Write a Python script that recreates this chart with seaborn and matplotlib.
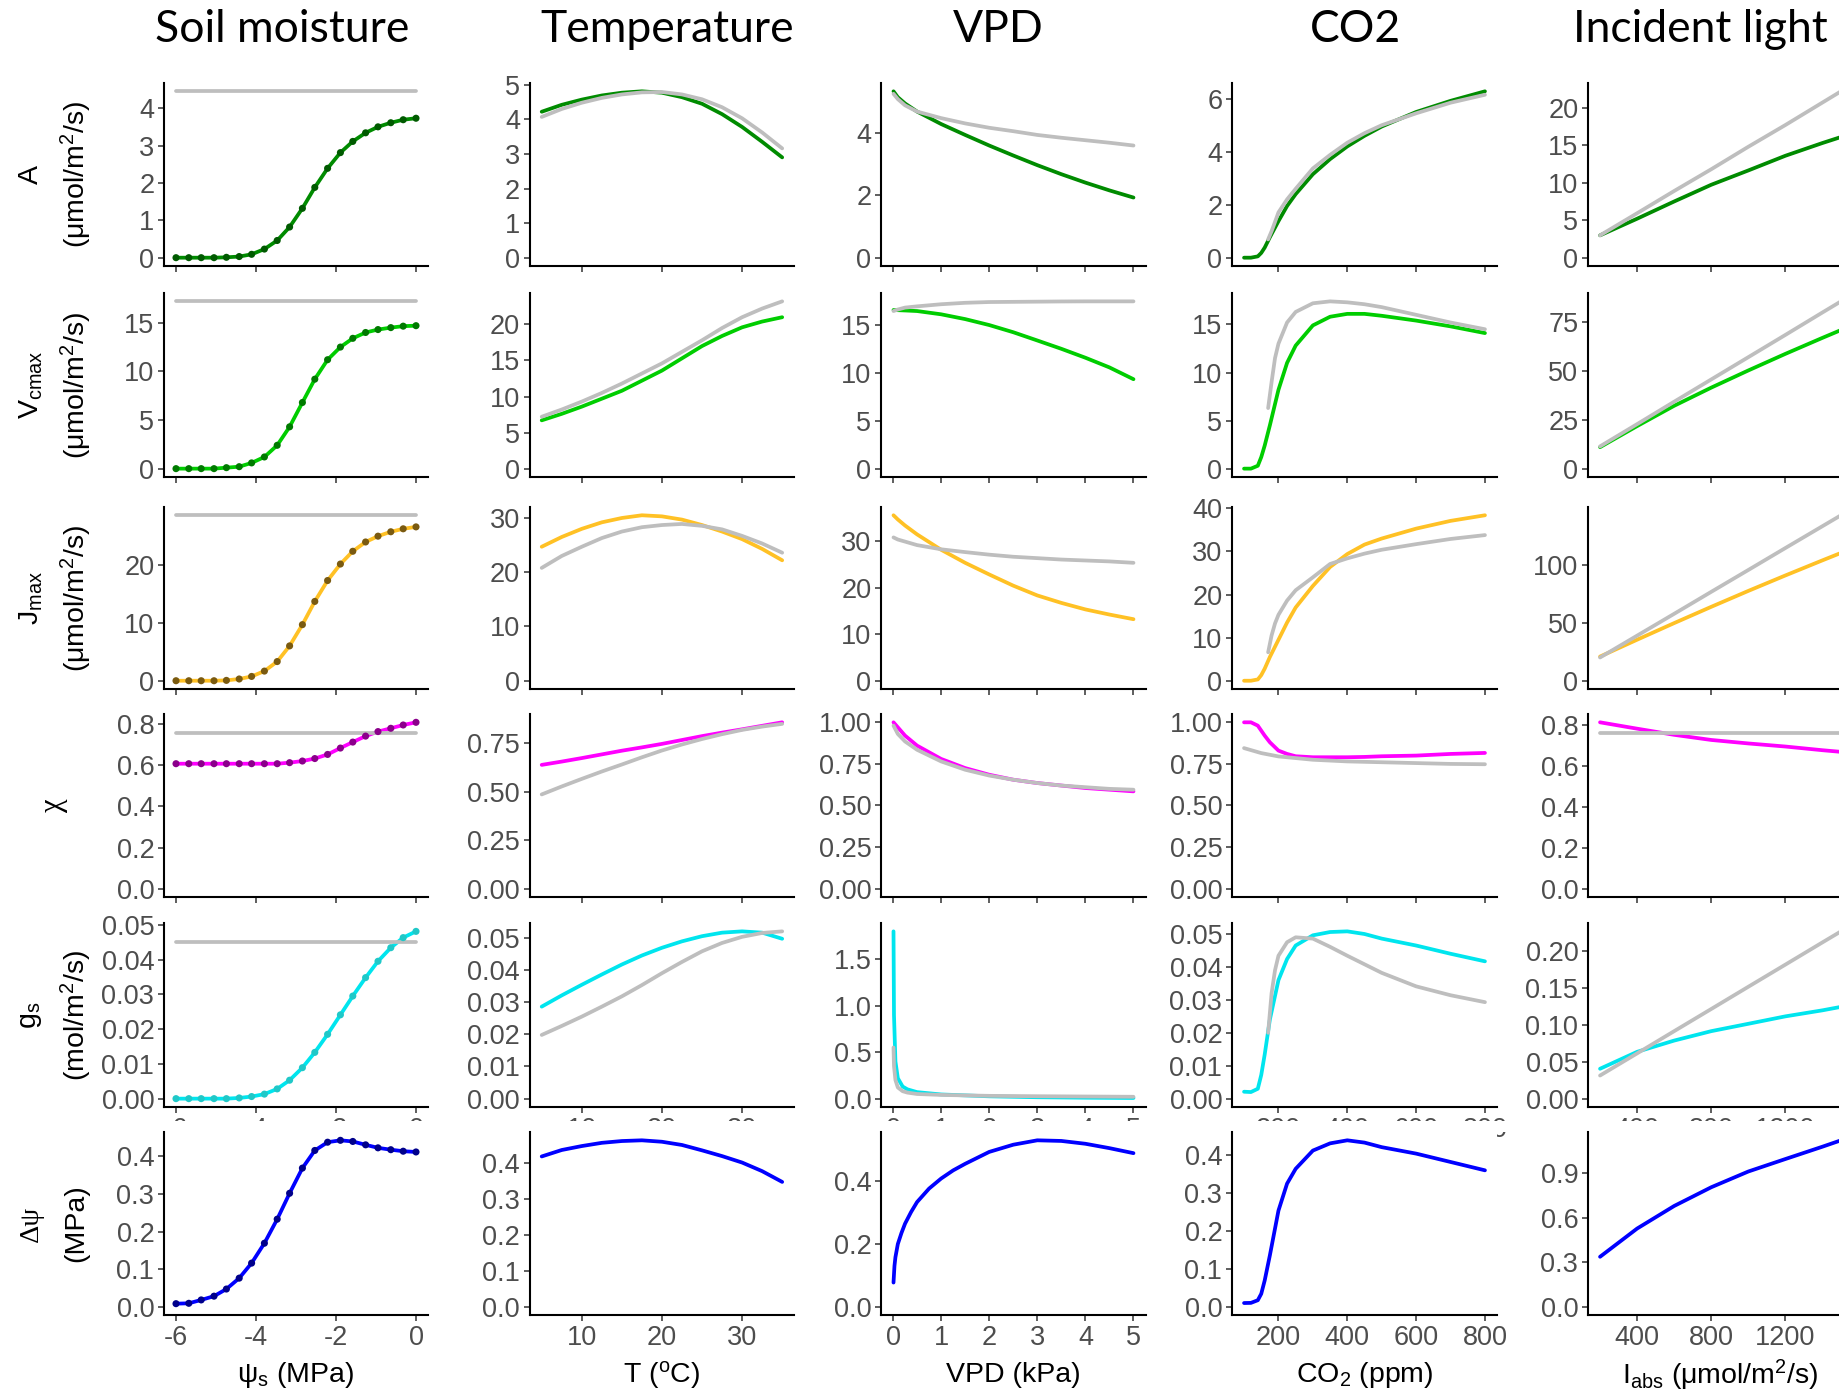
import numpy as np
import pandas as pd
import matplotlib
matplotlib.use("Agg")
import matplotlib.pyplot as plt
import seaborn as sns
from matplotlib.patches import Rectangle

# ======================= DATA =======================
# ---- column 1 : soil moisture (psi_s, MPa) ----
psi_s = [-6.0, -5.68, -5.37, -5.05, -4.74, -4.42, -4.11, -3.79, -3.47, -3.16,
         -2.84, -2.53, -2.21, -1.89, -1.58, -1.26, -0.95, -0.63, -0.32, 0.0]
soil_A = [0, 0, 0, 0, 0.01, 0.03, 0.09, 0.23, 0.46, 0.82, 1.32, 1.88, 2.39, 2.81,
          3.11, 3.34, 3.50, 3.61, 3.69, 3.73]
soil_V = [0, 0, 0, 0, 0.1, 0.2, 0.59, 1.2, 2.4, 4.3, 6.8, 9.2, 11.2, 12.5, 13.4,
          14.0, 14.3, 14.5, 14.65, 14.7]
soil_J = [0, 0, 0, 0, 0.06, 0.3, 0.74, 1.66, 3.3, 6.0, 9.66, 13.66, 17.26, 20.1,
          22.3, 23.9, 24.9, 25.66, 26.17, 26.5]
soil_chi = [0.607, 0.607, 0.607, 0.607, 0.607, 0.607, 0.607, 0.607, 0.607, 0.612,
            0.62, 0.632, 0.652, 0.683, 0.712, 0.741, 0.763, 0.779, 0.795, 0.808]
soil_gs = [0, 0, 0, 0, 0, 0.0002, 0.0006, 0.0013, 0.0028, 0.0053, 0.0089, 0.0133,
           0.0185, 0.0241, 0.0295, 0.0348, 0.0395, 0.0434, 0.0463, 0.0481]
soil_dpsi = [0.008, 0.009, 0.018, 0.028, 0.047, 0.076, 0.116, 0.169, 0.233, 0.302,
             0.369, 0.416, 0.438, 0.443, 0.44, 0.431, 0.423, 0.418, 0.414, 0.412]
soil_ref_x = [-6.0, 0.0]
soil_ref_A = [4.45, 4.45]
soil_ref_V = [17.2, 17.2]
soil_ref_J = [28.5, 28.5]
soil_ref_chi = [0.755, 0.755]
soil_ref_gs = [0.0449, 0.0449]

# ---- column 2 : temperature (degC) ----
temp = [5, 7.5, 10, 12.5, 15, 17.5, 20, 22.5, 25, 27.5, 30, 32.5, 35]
temp_A = [4.22, 4.42, 4.57, 4.69, 4.77, 4.81, 4.77, 4.64, 4.45, 4.15, 3.78, 3.35, 2.90]
temp_A_ref = [4.07, 4.30, 4.48, 4.62, 4.72, 4.78, 4.79, 4.72, 4.58, 4.35, 4.03, 3.62, 3.16]
temp_V = [6.7, 7.6, 8.6, 9.7, 10.8, 12.2, 13.6, 15.3, 17.0, 18.4, 19.6, 20.4, 21.0]
temp_V_ref = [7.2, 8.2, 9.3, 10.5, 11.8, 13.2, 14.6, 16.2, 17.8, 19.5, 21.0, 22.2, 23.2]
temp_J = [24.7, 26.5, 28.0, 29.2, 30.0, 30.5, 30.3, 29.7, 28.7, 27.5, 26.1, 24.3, 22.2]
temp_J_ref = [20.8, 23.0, 24.7, 26.3, 27.5, 28.3, 28.7, 28.9, 28.55, 27.9, 26.7, 25.3, 23.6]
temp_chi = [0.637, 0.654, 0.672, 0.691, 0.71, 0.727, 0.745, 0.765, 0.785, 0.803, 0.82, 0.838, 0.856]
temp_chi_ref = [0.485, 0.526, 0.565, 0.603, 0.639, 0.676, 0.711, 0.742, 0.77, 0.795, 0.817, 0.834, 0.848]
temp_gs = [0.0286, 0.0321, 0.0354, 0.0386, 0.0417, 0.0445, 0.0469, 0.0489, 0.0505, 0.0516,
           0.052, 0.0516, 0.0497]
temp_gs_ref = [0.0198, 0.0226, 0.0255, 0.0286, 0.0318, 0.0353, 0.039, 0.0425, 0.0458,
               0.0484, 0.0503, 0.0515, 0.052]
temp_dpsi = [0.419, 0.437, 0.448, 0.457, 0.462, 0.464, 0.46, 0.451, 0.436, 0.42, 0.402, 0.378, 0.348]

# ---- column 3 : VPD (kPa) ----
vpd = [0.01, 0.1, 0.25, 0.5, 1, 1.5, 2, 2.5, 3, 3.5, 4, 4.5, 5]
vpd_A = [5.34, 5.15, 4.95, 4.69, 4.29, 3.94, 3.60, 3.28, 2.97, 2.68, 2.41, 2.16, 1.93]
vpd_A_ref = [5.26, 5.09, 4.89, 4.69, 4.48, 4.31, 4.17, 4.06, 3.94, 3.85, 3.77, 3.69, 3.60]
vpd_V = [16.55, 16.53, 16.5, 16.44, 16.1, 15.6, 14.98, 14.23, 13.37, 12.5, 11.57, 10.56, 9.33]
vpd_V_ref = [16.44, 16.6, 16.8, 16.93, 17.15, 17.3, 17.38, 17.4, 17.42, 17.44, 17.45, 17.45, 17.45]
vpd_J = [35.5, 34.6, 33.3, 31.4, 28.1, 25.3, 22.8, 20.4, 18.3, 16.7, 15.3, 14.2, 13.2]
vpd_J_ref = [30.75, 30.3, 29.85, 29.1, 28.2, 27.6, 27.05, 26.6, 26.3, 26.0, 25.8, 25.6, 25.3]
vpd_chi = [1.0, 0.97, 0.92, 0.86, 0.78, 0.725, 0.685, 0.655, 0.635, 0.62, 0.605, 0.595, 0.585]
vpd_chi_ref = [0.98, 0.93, 0.885, 0.835, 0.765, 0.715, 0.68, 0.655, 0.635, 0.62, 0.61, 0.6, 0.595]
vpd_fine = [0.01, 0.02, 0.05, 0.1, 0.2, 0.3, 0.5, 1, 2, 3, 4, 5]
vpd_gs = [1.8, 0.9, 0.4, 0.22, 0.13, 0.1, 0.07, 0.045, 0.025, 0.015, 0.01, 0.007]
vpd_gs_ref = [0.55, 0.35, 0.2, 0.12, 0.08, 0.065, 0.05, 0.04, 0.03, 0.026, 0.023, 0.02]
vpd_dp = [0.01, 0.03, 0.05, 0.1, 0.175, 0.25, 0.375, 0.5, 0.75, 1, 1.25, 1.5, 2, 2.5,
          3, 3.5, 4, 4.5, 5]
vpd_dpsi = [0.077, 0.13, 0.158, 0.2, 0.235, 0.265, 0.302, 0.334, 0.377, 0.409, 0.435,
            0.456, 0.494, 0.517, 0.531, 0.529, 0.52, 0.506, 0.49]

# ---- column 4 : CO2 (ppm) ----
co2 = [100, 120, 140, 150, 160, 175, 200, 225, 250, 300, 350, 400, 450, 500, 600, 700, 800]
co2_ref = [170, 180, 190, 200, 225, 250, 300, 350, 400, 450, 500, 600, 700, 800]
co2_A = [0, 0, 0.05, 0.18, 0.38, 0.77, 1.38, 1.95, 2.4, 3.15, 3.72, 4.2, 4.6, 4.95, 5.5, 5.92, 6.28]
co2_A_ref = [0.69, 1.0, 1.35, 1.71, 2.2, 2.6, 3.37, 3.88, 4.34, 4.7, 5.0, 5.45, 5.85, 6.15]
co2_V = [0, 0, 0.3, 1.2, 2.4, 4.5, 8.2, 11.0, 12.8, 14.9, 15.8, 16.1, 16.1, 15.9, 15.4, 14.8, 14.1]
co2_V_ref = [6.3, 9.0, 11.5, 13.0, 15.2, 16.3, 17.2, 17.4, 17.3, 17.1, 16.8, 16.0, 15.2, 14.5]
co2_J = [0, 0, 0.3, 1.3, 2.8, 5.5, 9.5, 13.5, 17.0, 22.0, 26.4, 29.4, 31.6, 33.0, 35.3, 37.1, 38.4]
co2_J_ref = [6.6, 10.5, 13.3, 15.3, 18.6, 21.0, 24.0, 27.1, 28.4, 29.5, 30.4, 31.7, 32.9, 33.8]
co2_chi = [1.0, 1.0, 0.98, 0.95, 0.92, 0.88, 0.83, 0.81, 0.796, 0.79, 0.79, 0.79, 0.792,
           0.796, 0.80, 0.81, 0.816]
co2_chi_x_ref = [100, 150, 200, 250, 300, 400, 500, 600, 700, 800]
co2_chi_ref = [0.845, 0.815, 0.795, 0.785, 0.775, 0.765, 0.76, 0.755, 0.75, 0.748]
co2_gs = [0.0021, 0.002, 0.003, 0.0072, 0.0134, 0.024, 0.036, 0.0424, 0.0465, 0.0496, 0.0506,
          0.0508, 0.05, 0.0486, 0.0465, 0.044, 0.0417]
co2_gs_ref = [0.02, 0.032, 0.039, 0.0434, 0.0475, 0.049, 0.0486, 0.0461, 0.0434, 0.0408,
              0.0382, 0.0341, 0.0314, 0.0293]
co2_dpsi = [0.0096, 0.01, 0.017, 0.034, 0.069, 0.135, 0.253, 0.324, 0.363, 0.411, 0.43,
            0.438, 0.432, 0.42, 0.403, 0.381, 0.359]

# ---- column 5 : incident light (I_abs, umol/m2/s) ----
iabs = [200, 400, 600, 800, 1000, 1200, 1400, 1500]
iabs_A = [2.98, 5.2, 7.5, 9.73, 11.64, 13.6, 15.3, 16.1]
iabs_A_ref = [2.98, 5.93, 8.9, 11.8, 14.8, 17.7, 20.7, 22.2]
iabs_V = [11.0, 21.8, 32.2, 41.5, 50.3, 58.8, 67.0, 71.0]
iabs_V_ref = [11.4, 22.8, 34.3, 45.7, 57.1, 68.5, 80.0, 85.7]
iabs_J = [20.8, 35.3, 49.6, 63.6, 77.3, 90.6, 103.6, 110.0]
iabs_J_ref = [20.0, 38.8, 57.6, 76.5, 95.3, 114.2, 133.0, 142.4]
iabs_chi = [0.811, 0.78, 0.75, 0.725, 0.708, 0.693, 0.675, 0.667]
iabs_chi_ref = [0.757, 0.757, 0.757, 0.757, 0.757, 0.757, 0.757, 0.757]
iabs_gs = [0.0406, 0.0636, 0.0789, 0.0917, 0.1017, 0.1118, 0.12, 0.1247]
iabs_gs_ref = [0.0314, 0.0615, 0.0917, 0.1218, 0.152, 0.1821, 0.2123, 0.2273]
iabs_dpsi = [0.336, 0.526, 0.678, 0.804, 0.91, 0.994, 1.077, 1.12]

# ---- text ----
col_titles = ["Soil moisture", "Temperature", "VPD", "CO2", "Incident light"]
x_titles = [r"$\psi_{\rm s}$ (MPa)", r"T ($^{\rm o}$C)", "VPD (kPa)", r"CO$_2$ (ppm)",
            r"I$_{\rm abs}$ ($\mu$mol/m$^2$/s)"]
y_line1 = ["A", r"V$_{\rm cmax}$", r"J$_{\rm max}$", "χ", r"g$_{\rm s}$", "Δψ"]
y_line2 = [r"($\mu$mol/m$^2$/s)", r"($\mu$mol/m$^2$/s)", r"($\mu$mol/m$^2$/s)", "",
           r"(mol/m$^2$/s)", "(MPa)"]

x_ticks = [[-6, -4, -2, 0], [10, 20, 30], [0, 1, 2, 3, 4, 5], [200, 400, 600, 800], [400, 800, 1200]]
y_ticks = [
    [[0, 1, 2, 3, 4], [0, 1, 2, 3, 4, 5], [0, 2, 4], [0, 2, 4, 6], [0, 5, 10, 15, 20]],
    [[0, 5, 10, 15], [0, 5, 10, 15, 20], [0, 5, 10, 15], [0, 5, 10, 15], [0, 25, 50, 75]],
    [[0, 10, 20], [0, 10, 20, 30], [0, 10, 20, 30], [0, 10, 20, 30, 40], [0, 50, 100]],
    [[0, 0.2, 0.4, 0.6, 0.8], [0, 0.25, 0.5, 0.75], [0, 0.25, 0.5, 0.75, 1.0],
     [0, 0.25, 0.5, 0.75, 1.0], [0, 0.2, 0.4, 0.6, 0.8]],
    [[0, 0.01, 0.02, 0.03, 0.04, 0.05], [0, 0.01, 0.02, 0.03, 0.04, 0.05], [0, 0.5, 1.0, 1.5],
     [0, 0.01, 0.02, 0.03, 0.04, 0.05], [0, 0.05, 0.10, 0.15, 0.20]],
    [[0, 0.1, 0.2, 0.3, 0.4], [0, 0.1, 0.2, 0.3, 0.4], [0, 0.2, 0.4],
     [0, 0.1, 0.2, 0.3, 0.4], [0, 0.3, 0.6, 0.9]],
]
y_dec = [[0, 0, 0, 0, 0], [0, 0, 0, 0, 0], [0, 0, 0, 0, 0],
         [1, 2, 2, 2, 1], [2, 2, 1, 2, 2], [1, 1, 1, 1, 1]]

# ======================= STYLE =======================
sns.set_theme(style="ticks")
plt.rcParams["font.family"] = ["Liberation Sans", "DejaVu Sans"]
plt.rcParams["mathtext.fontset"] = "custom"
plt.rcParams["mathtext.rm"] = "Liberation Sans"
plt.rcParams["mathtext.it"] = "Liberation Sans:italic"
plt.rcParams["mathtext.bf"] = "Liberation Sans:bold"
plt.rcParams["mathtext.default"] = "regular"

W, H = 1839, 1394
GRAY = "#BEBEBE"
line_cols = ["#008B00", "#00CD00", "#FFC125", "#FF00FF", "#00E5EE", "#0000FF"]
pt_cols = ["#005A00", "#007A00", "#7A5A10", "#8B008B", "#20C8C8", "#00008B"]
LW = 2.7

col_left = [164, 529.7, 881, 1232, 1588]
col_w = [264, 264.5, 264.5, 265, 265]
row_top = [83, 293, 507, 714, 923, 1132]
row_bot = [266, 477, 689, 897, 1107, 1315]

# panel contents: (x, y, x_ref, y_ref)
panels = [
    [(psi_s, soil_A, soil_ref_x, soil_ref_A), (temp, temp_A, temp, temp_A_ref),
     (vpd, vpd_A, vpd, vpd_A_ref), (co2, co2_A, co2_ref, co2_A_ref), (iabs, iabs_A, iabs, iabs_A_ref)],
    [(psi_s, soil_V, soil_ref_x, soil_ref_V), (temp, temp_V, temp, temp_V_ref),
     (vpd, vpd_V, vpd, vpd_V_ref), (co2, co2_V, co2_ref, co2_V_ref), (iabs, iabs_V, iabs, iabs_V_ref)],
    [(psi_s, soil_J, soil_ref_x, soil_ref_J), (temp, temp_J, temp, temp_J_ref),
     (vpd, vpd_J, vpd, vpd_J_ref), (co2, co2_J, co2_ref, co2_J_ref), (iabs, iabs_J, iabs, iabs_J_ref)],
    [(psi_s, soil_chi, soil_ref_x, soil_ref_chi), (temp, temp_chi, temp, temp_chi_ref),
     (vpd, vpd_chi, vpd, vpd_chi_ref), (co2, co2_chi, co2_chi_x_ref, co2_chi_ref),
     (iabs, iabs_chi, iabs, iabs_chi_ref)],
    [(psi_s, soil_gs, soil_ref_x, soil_ref_gs), (temp, temp_gs, temp, temp_gs_ref),
     (vpd_fine, vpd_gs, vpd_fine, vpd_gs_ref), (co2, co2_gs, co2_ref, co2_gs_ref),
     (iabs, iabs_gs, iabs, iabs_gs_ref)],
    [(psi_s, soil_dpsi, None, None), (temp, temp_dpsi, None, None),
     (vpd_dp, vpd_dpsi, None, None), (co2, co2_dpsi, None, None), (iabs, iabs_dpsi, None, None)],
]

fig = plt.figure(figsize=(W / 100, H / 100), dpi=100)
fig.patch.set_facecolor("white")

for r in range(6):
    for c in range(5):
        x, y, xr, yr = panels[r][c]
        l = col_left[c] / W
        b = 1 - row_bot[r] / H
        w = col_w[c] / W
        h = (row_bot[r] - row_top[r]) / H
        ax = fig.add_axes([l, b, w, h])
        ax.set_zorder(2 if r == 5 else 0)
        df = pd.DataFrame({"x": x, "y": y})
        sns.lineplot(data=df, x="x", y="y", ax=ax, color=line_cols[r], lw=LW,
                     estimator=None, sort=False, errorbar=None)
        yall = list(y)
        if xr is not None:
            dfr = pd.DataFrame({"x": xr, "y": yr})
            sns.lineplot(data=dfr, x="x", y="y", ax=ax, color=GRAY, lw=LW,
                         estimator=None, sort=False, errorbar=None)
            yall += list(yr)
        if c == 0:
            sns.scatterplot(data=df, x="x", y="y", ax=ax, color=pt_cols[r], s=26,
                            edgecolor="none", linewidth=0, zorder=5)
        xall = list(x) + (list(xr) if xr is not None else [])
        x0, x1 = min(xall), max(xall)
        if c == 2:
            x0 = 0
        px = 0.05 * (x1 - x0)
        ax.set_xlim(x0 - px, x1 + px)
        y1 = max(yall)
        ax.set_ylim(-0.05 * y1, 1.05 * y1)
        ax.set_xlabel("")
        ax.set_ylabel("")
        yt = y_ticks[r][c]
        d = y_dec[r][c]
        ax.set_yticks(yt)
        ax.set_yticklabels([f"{v:.{d}f}" for v in yt])
        ax.set_xticks(x_ticks[c])
        if r >= 4:
            ax.set_xticklabels([str(v) for v in x_ticks[c]])
        else:
            ax.set_xticklabels([])
        for s in ["top", "right"]:
            ax.spines[s].set_visible(False)
        for s in ["left", "bottom"]:
            ax.spines[s].set_linewidth(1.5)
            ax.spines[s].set_color("black")
        ax.tick_params(axis="both", direction="out", length=4, width=1.1, color="#333333",
                       labelcolor="#4D4D4D", labelsize=19.5, pad=3)
        ax.set_facecolor("white")
        ax.patch.set_alpha(0 if r < 5 else 1)

# white band hiding most of row-5 x tick labels (behind the last row)
fig.patches.append(Rectangle((0, 1 - 1132 / H), 1, (1132 - 1121) / H, transform=fig.transFigure,
                             facecolor="white", edgecolor="none", zorder=1))

# column titles
title_x = [282, 667, 998, 1355, 1700]
for c in range(5):
    fig.text(title_x[c] / W, 1 - 29 / H, col_titles[c], ha="center", va="center",
             fontsize=32, family=["Lato", "DejaVu Sans"], color="black")

# x titles
for c in range(5):
    cx = (col_left[c] + col_w[c] / 2) / W
    fig.text(cx, 1 - 1375 / H, x_titles[c], ha="center", va="center", fontsize=20.5, color="black")

# y titles
for r in range(6):
    cy = 1 - (row_top[r] + row_bot[r]) / 2 / H
    if y_line2[r]:
        fam = ["Liberation Serif", "DejaVu Serif"] if r == 5 else ["Liberation Sans", "DejaVu Sans"]
        fig.text(31 / W, cy, y_line1[r], rotation=90, ha="center", va="center", fontsize=20.5,
                 family=fam, color="black")
        fig.text(76 / W, cy, y_line2[r], rotation=90, ha="center", va="center", fontsize=20.5,
                 color="black")
    else:
        fig.text(54 / W, cy, y_line1[r], rotation=90, ha="center", va="center", fontsize=22,
                 family=["Liberation Serif", "DejaVu Serif"], color="black")

fig.savefig("out.png", dpi=100, facecolor="white")
